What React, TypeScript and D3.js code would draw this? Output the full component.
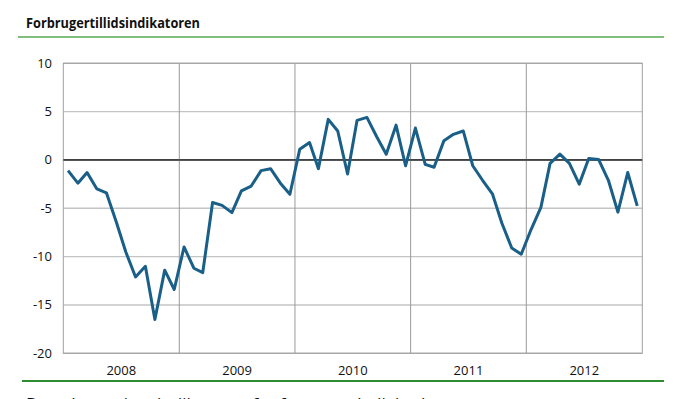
import React from "react";
import * as d3 from "d3";

const title = "Forbrugertillidsindikatoren";
const years = ["2008", "2009", "2010", "2011", "2012"];
const yTicks = [10, 5, 0, -5, -10, -15, -20];
const startDate = new Date(2008, 0, 1);
const endDate = new Date(2013, 0, 1);
const values = [
  -1.1, -2.4, -1.3, -3.0, -3.4, -6.4, -9.5, -12.1, -11.0, -16.5, -11.4, -13.4,
  -9.0, -11.2, -11.65, -4.4, -4.7, -5.45, -3.2, -2.7, -1.1, -0.9, -2.4, -3.55,
  1.1, 1.8, -0.9, 4.2, 3.0, -1.45, 4.1, 4.4, 2.4, 0.6, 3.6, -0.6,
  3.3, -0.45, -0.75, 2.0, 2.65, 3.0, -0.6, -2.1, -3.5, -6.55, -9.1, -9.75,
  -7.2, -4.9, -0.35, 0.6, -0.35, -2.5, 0.15, 0.05, -2.1, -5.4, -1.3, -4.75,
];

const W = 680;
const H = 399;
const m = { left: 63.3, right: 642.3, top: 63.3, bottom: 353.3 };

export default function App() {
  const x = d3.scaleTime().domain([startDate, endDate]).range([m.left, m.right]);
  const y = d3.scaleLinear().domain([-20, 10]).range([m.bottom, m.top]);
  const pts = values.map((v, i) => ({ d: new Date(2008, i, 16), v }));
  const line = d3
    .line<{ d: Date; v: number }>()
    .x((p) => x(p.d))
    .y((p) => y(p.v));
  const yearStarts = years.map((yr) => new Date(+yr, 0, 1));
  const font = "'Liberation Sans Narrow', 'Open Sans', sans-serif";
  return (
    <svg
      width={W}
      height={H}
      style={{ position: "absolute", left: 0, top: 0, background: "#fff" }}
    >
      <text
        x={26}
        y={28}
        fontFamily={font}
        fontWeight="bold"
        fontSize={14.5}
        fill="#111"
        textLength={174}
        lengthAdjust="spacingAndGlyphs"
      >
        {title}
      </text>
      <line x1={18} x2={664} y1={37} y2={37} stroke="#7fbf7b" strokeWidth={2} />
      {/* horizontal grid */}
      {yTicks.map((t) => (
        <line
          key={"h" + t}
          x1={m.left}
          x2={m.right}
          y1={y(t)}
          y2={y(t)}
          stroke={t === 0 ? "#111" : "#c4c4c4"}
          strokeWidth={t === 0 ? 1 : 1.4}
        />
      ))}
      {/* vertical grid */}
      {yearStarts.slice(1).map((d, i) => (
        <line
          key={"v" + i}
          x1={x(d)}
          x2={x(d)}
          y1={m.top}
          y2={m.bottom}
          stroke="#9a9a9a"
          strokeWidth={1}
        />
      ))}
      <rect
        x={m.left}
        y={m.top}
        width={m.right - m.left}
        height={m.bottom - m.top}
        fill="none"
        stroke="#a0a0a0"
        strokeWidth={1}
      />
      <line x1={m.left} x2={m.right} y1={y(0)} y2={y(0)} stroke="#111" strokeWidth={1} />
      {yTicks.map((t) => (
        <text
          key={"yl" + t}
          x={52}
          y={y(t) + 4.5}
          textAnchor="end"
          fontFamily={font}
          fontSize={13}
          fill="#111"
        >
          {t}
        </text>
      ))}
      {years.map((yr, i) => {
        const a = x(yearStarts[i]);
        const b = i < years.length - 1 ? x(yearStarts[i + 1]) : x(endDate);
        return (
          <text
            key={yr}
            x={(a + b) / 2}
            y={375}
            textAnchor="middle"
            fontFamily={font}
            fontSize={13}
            fill="#111"
          >
            {yr}
          </text>
        );
      })}
      <path
        d={line(pts) || ""}
        fill="none"
        stroke="#1a5f87"
        strokeWidth={3}
        strokeLinejoin="round"
      />
      <line x1={22} x2={664} y1={381} y2={381} stroke="#2e8b2e" strokeWidth={2} />
      <text x={26} y={410} fontFamily={font} fontSize={17} fill="#111">
        Derudover viser indikatoren for forventet ledighed at ...
      </text>
    </svg>
  );
}
